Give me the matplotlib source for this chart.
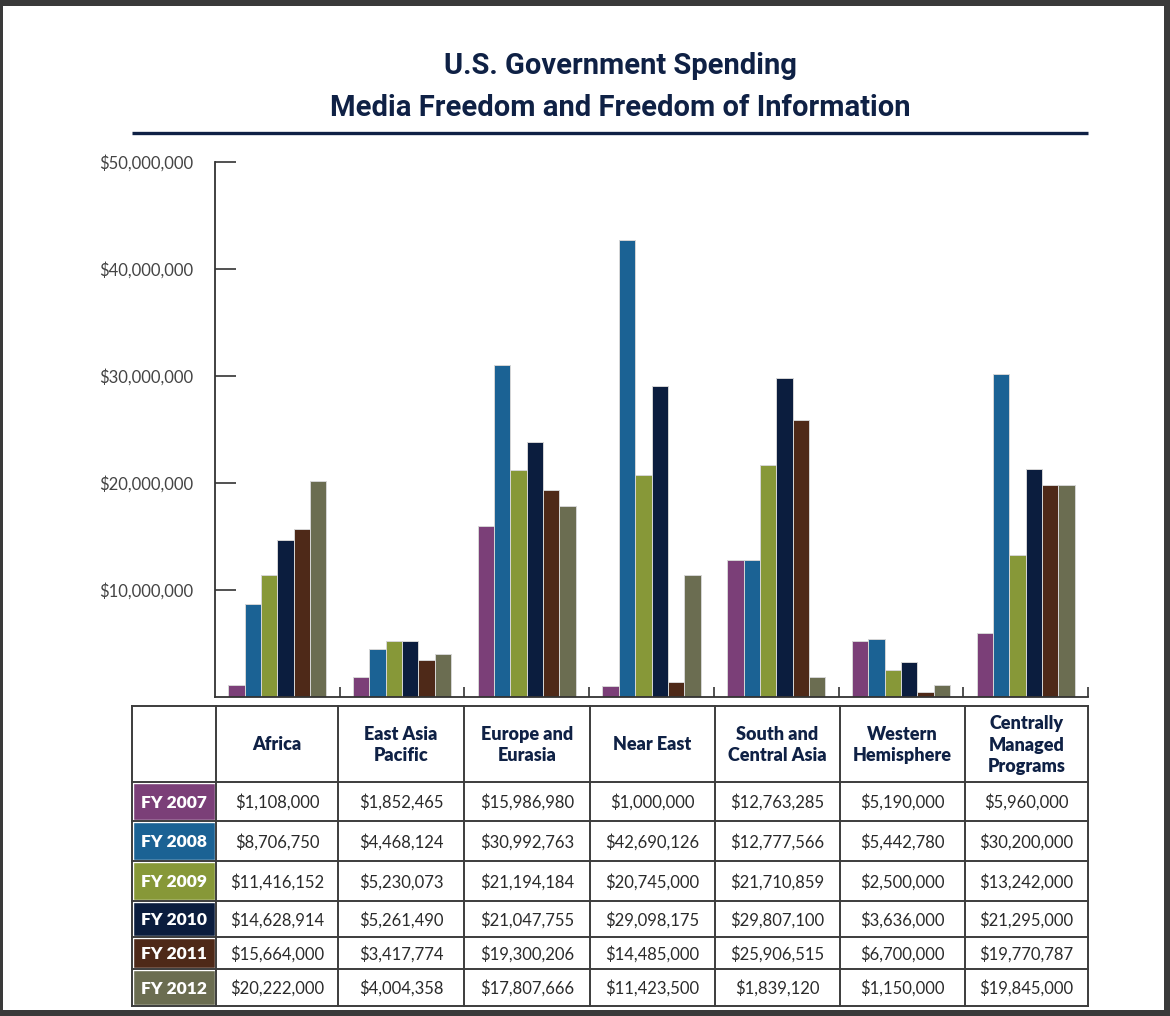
import matplotlib.pyplot as plt
from matplotlib.patches import Rectangle

# regions (table header text)
regions = ["Africa", "East Asia\nPacific", "Europe and\nEurasia", "Near East",
           "South and\nCentral Asia", "Western\nHemisphere", "Centrally\nManaged\nPrograms"]
years = ["FY 2007", "FY 2008", "FY 2009", "FY 2010", "FY 2011", "FY 2012"]
year_colors = ["#7b3f78", "#1b6294", "#879838", "#0b1d3e", "#4e2918", "#6b6d51"]

# values printed in the table
table_2007 = [1108000, 1852465, 15986980, 1000000, 12763285, 5190000, 5960000]
table_2008 = [8706750, 4468124, 30992763, 42690126, 12777566, 5442780, 30200000]
table_2009 = [11416152, 5230073, 21194184, 20745000, 21710859, 2500000, 13242000]
table_2010 = [14628914, 5261490, 21047755, 29098175, 29807100, 3636000, 21295000]
table_2011 = [15664000, 3417774, 19300206, 14485000, 25906515, 6700000, 19770787]
table_2012 = [20222000, 4004358, 17807666, 11423500, 1839120, 1150000, 19845000]
table_rows = [table_2007, table_2008, table_2009, table_2010, table_2011, table_2012]

# bar heights as drawn in the chart (a few differ from the table)
bars_2007 = [1108000, 1852465, 15986980, 1000000, 12763285, 5190000, 5960000]
bars_2008 = [8706750, 4468124, 30992763, 42690126, 12777566, 5442780, 30200000]
bars_2009 = [11416152, 5230073, 21194184, 20745000, 21710859, 2500000, 13242000]
bars_2010 = [14628914, 5261490, 23800000, 29098175, 29807100, 3300000, 21295000]
bars_2011 = [15664000, 3417774, 19300206, 1400000, 25906515, 470000, 19770787]
bars_2012 = [20222000, 4004358, 17807666, 11423500, 1839120, 1150000, 19845000]
bar_rows = [bars_2007, bars_2008, bars_2009, bars_2010, bars_2011, bars_2012]

y_ticks = [10000000, 20000000, 30000000, 40000000, 50000000]

W, H = 1170, 1016
navy = "#0f2145"
grid_col = "#3c3c3c"
font = ["Lato", "DejaVu Sans"]
title_font = ["Roboto", "DejaVu Sans"]

fig = plt.figure(figsize=(W / 100, H / 100), dpi=100)
fig.patch.set_facecolor("#3a3a3a")
fig.patches.append(Rectangle((3 / W, 6 / H), 1161 / W, 1004 / H, transform=fig.transFigure,
                             facecolor="white", edgecolor="none", zorder=-5))

# bar chart
ax = fig.add_axes([215 / W, 1 - 697 / H, 873 / W, 535 / H])
ax.set_zorder(2)
ax.set_facecolor("none")
bw = 0.131
n = len(years)
for i, (vals, col) in enumerate(zip(bar_rows, year_colors)):
    xs = [k + 0.5 + (i - (n - 1) / 2) * bw for k in range(len(regions))]
    ax.bar(xs, vals, width=bw, color=col, edgecolor="#d6d6d6", linewidth=0.7, zorder=2)

ax.set_xlim(0, len(regions))
ax.set_ylim(0, 50000000)
ax.set_yticks(y_ticks)
ax.set_yticklabels([f"${v:,}" for v in y_ticks], fontfamily=font, fontsize=12, color="#444444")
ax.set_xticks(range(1, len(regions) + 1))
ax.set_xticklabels([])
ax.tick_params(axis="y", direction="in", length=15, width=1.2, color="#333333", pad=16)
ax.tick_params(axis="x", direction="in", length=7, width=1.2, color="#333333")
for s in ["top", "right"]:
    ax.spines[s].set_visible(False)
for s in ["left", "bottom"]:
    ax.spines[s].set_color("#333333")
    ax.spines[s].set_linewidth(1.3)

# overlay in pixel coordinates for title and table
ov = fig.add_axes([0, 0, 1, 1])
ov.set_zorder(3)
ov.set_xlim(0, W)
ov.set_ylim(H, 0)
ov.axis("off")
ov.set_facecolor("none")

ov.text(620, 66, "U.S. Government Spending", ha="center", va="center", fontsize=21,
        fontweight="bold", color=navy, family=title_font)
ov.text(620, 108, "Media Freedom and Freedom of Information", ha="center", va="center",
        fontsize=21, fontweight="bold", color=navy, family=title_font)
ov.plot([132, 1088], [133, 133], color=navy, lw=2.4, solid_capstyle="butt")

col_x = [132, 216, 338, 464, 590, 715, 840, 965, 1088]
row_y = [706, 782, 821, 861, 901, 937, 969, 1006]

# colored year cells
for r, (lab, col) in enumerate(zip(years, year_colors)):
    y0, y1 = row_y[r + 1], row_y[r + 2]
    ov.add_patch(Rectangle((col_x[0] + 1, y0 + 1), col_x[1] - col_x[0] - 2, y1 - y0 - 2,
                           facecolor=col, edgecolor="white", lw=1.0, zorder=3))
    ov.text((col_x[0] + col_x[1]) / 2, (y0 + y1) / 2 + 1, lab, ha="center", va="center",
            color="white", fontsize=12.5, fontweight="heavy", family=font, zorder=4)

# grid lines
for x in col_x:
    ov.plot([x, x], [row_y[0], row_y[-1]], color=grid_col, lw=1.4, zorder=5)
for y in row_y:
    ov.plot([col_x[0], col_x[-1]], [y, y], color=grid_col, lw=1.4, zorder=5)

# header text
for c, name in enumerate(regions):
    ov.text((col_x[c + 1] + col_x[c + 2]) / 2, (row_y[0] + row_y[1]) / 2 + 1, name,
            ha="center", va="center", fontsize=13, fontweight="heavy", color=navy,
            family=font, linespacing=1.3, zorder=4)

# values
for r, vals in enumerate(table_rows):
    yc = (row_y[r + 1] + row_y[r + 2]) / 2 + 1
    for c, v in enumerate(vals):
        ov.text((col_x[c + 1] + col_x[c + 2]) / 2, yc, f"${v:,}", ha="center", va="center",
                fontsize=12, color="#2a2a2a", family=font, zorder=4)

fig.savefig("out.png", dpi=100, facecolor=fig.get_facecolor())
